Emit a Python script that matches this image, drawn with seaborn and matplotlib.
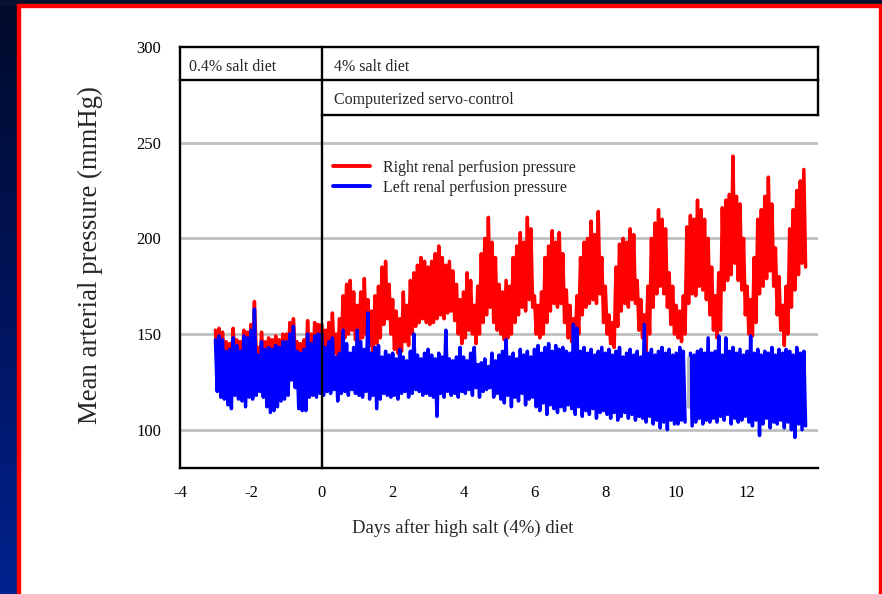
import numpy as np
import pandas as pd
import matplotlib
matplotlib.use("Agg")
import matplotlib.pyplot as plt
import seaborn as sns
from matplotlib.patches import Rectangle
from matplotlib.lines import Line2D
from matplotlib.colors import LinearSegmentedColormap

# ---------------- data ----------------
# samples every 0.1 day from -3.0 to 13.6; each sample has an upper and lower excursion
day_start, day_step = -3.0, 0.1

right_hi = [152, 153, 151, 146, 145, 153, 147, 146, 152, 151,
            155, 167, 143, 151, 146, 148, 147, 149, 147, 150,
            150, 156, 158, 146, 145, 147, 157, 150, 156, 155,
            155, 152, 156, 161, 150, 158, 170, 176, 178, 172,
            165, 172, 179, 168, 162, 170, 175, 185, 188, 176,
            168, 162, 158, 172, 165, 178, 182, 186, 190, 188,
            185, 188, 192, 196, 190, 186, 188, 183, 176, 168,
            172, 182, 178, 165, 175, 192, 200, 211, 198, 190,
            176, 172, 178, 175, 190, 196, 203, 198, 211, 205,
            170, 165, 172, 190, 196, 204, 198, 203, 192, 173,
            165, 158, 170, 190, 198, 200, 209, 202, 214, 190,
            175, 160, 156, 185, 197, 200, 198, 205, 202, 178,
            168, 160, 175, 200, 208, 215, 210, 205, 182, 175,
            165, 162, 170, 206, 212, 210, 220, 215, 210, 200,
            185, 170, 182, 216, 220, 223, 243, 222, 218, 200,
            175, 168, 190, 210, 215, 222, 232, 218, 195, 180,
            165, 175, 205, 215, 225, 230, 236]
right_lo = [135, 138, 136, 132, 133, 136, 134, 132, 138, 136,
            138, 140, 128, 136, 130, 132, 130, 131, 132, 135,
            135, 138, 140, 130, 130, 132, 138, 134, 137, 138,
            138, 136, 137, 140, 136, 140, 148, 150, 152, 147,
            145, 148, 150, 144, 140, 145, 148, 155, 158, 150,
            142, 140, 141, 146, 144, 150, 154, 156, 158, 156,
            155, 156, 158, 160, 158, 161, 162, 157, 150, 145,
            148, 152, 150, 145, 150, 156, 160, 164, 156, 152,
            150, 147, 148, 150, 156, 160, 164, 162, 168, 164,
            150, 148, 150, 156, 162, 166, 164, 166, 156, 148,
            146, 145, 150, 160, 164, 166, 168, 166, 171, 156,
            150, 145, 143, 154, 162, 166, 164, 168, 166, 152,
            148, 140, 150, 164, 171, 175, 171, 164, 155, 150,
            148, 146, 150, 166, 171, 170, 175, 173, 168, 160,
            152, 148, 152, 173, 178, 181, 187, 178, 173, 160,
            150, 149, 156, 171, 175, 179, 183, 175, 160, 152,
            144, 150, 164, 173, 181, 187, 185]
left_hi = [147, 149, 147, 141, 142, 148, 144, 141, 149, 148,
           152, 163, 139, 146, 142, 143, 142, 144, 143, 146,
           146, 150, 154, 141, 140, 142, 150, 145, 149, 150,
           150, 143, 146, 148, 138, 140, 152, 145, 140, 143,
           152, 146, 142, 161, 140, 143, 144, 138, 141, 139,
           140, 137, 142, 138, 136, 141, 150, 139, 137, 140,
           142, 139, 137, 140, 138, 152, 137, 136, 138, 143,
           138, 136, 140, 143, 134, 135, 137, 133, 140, 136,
           139, 141, 147, 138, 140, 137, 142, 139, 141, 138,
           142, 144, 140, 143, 145, 141, 144, 142, 143, 141,
           140, 155, 153, 141, 143, 140, 142, 139, 141, 143,
           140, 142, 139, 141, 143, 138, 140, 142, 139, 141,
           138, 155, 140, 142, 139, 141, 143, 140, 142, 139,
           140, 143, 141, np.nan, 140, 139, 141, 142, 140, 148,
           140, 141, 149, 139, 148, 141, 143, 140, 142, 139,
           141, 149, 140, 142, 139, 141, 140, 143, 139, 142,
           140, 142, 141, 139, 143, 140, 141]
left_lo = [120, 117, 116, 113, 111, 118, 116, 115, 112, 117,
           116, 118, 120, 117, 112, 109, 110, 112, 115, 116,
           118, 126, 122, 111, 110, 110, 117, 118, 117, 119,
           118, 120, 119, 121, 115, 119, 120, 118, 121, 119,
           118, 117, 120, 116, 118, 111, 116, 119, 118, 117,
           118, 116, 119, 120, 117, 119, 121, 120, 118, 119,
           118, 117, 107, 119, 117, 120, 118, 119, 117, 120,
           119, 121, 118, 122, 117, 120, 121, 122, 117, 119,
           116, 114, 118, 112, 117, 115, 119, 113, 116, 117,
           112, 110, 114, 108, 113, 111, 109, 112, 110, 113,
           111, 108, 112, 107, 110, 108, 111, 106, 109, 110,
           108, 106, 109, 105, 107, 109, 106, 108, 105, 107,
           106, 104, 107, 103, 105, 101, 104, 100, 105, 103,
           103, 105, 104, np.nan, 102, 104, 106, 103, 105, 104,
           106, 104, 107, 105, 108, 103, 106, 104, 105, 107,
           104, 102, 105, 97, 103, 106, 101, 104, 103, 105,
           101, 104, 100, 96, 103, 100, 102]
# short gray trace visible in the gap of the left-kidney record
gap_day = [10.34, 10.34]
gap_val = [112, 138]

x_ticks = [-4, -2, 0, 2, 4, 6, 8, 10, 12]
y_ticks = [100, 150, 200, 250, 300]
labels = ["Right renal perfusion pressure", "Left renal perfusion pressure"]
phase_labels = ["0.4% salt diet", "4% salt diet", "Computerized servo-control"]


def zigzag(hi, lo, name):
    n = len(hi)
    days = np.round(day_start + day_step * np.arange(n), 2)
    t = np.empty(2 * n)
    v = np.empty(2 * n)
    t[0::2] = days
    t[1::2] = days + day_step / 2
    v[0::2] = hi
    v[1::2] = lo
    seg = np.cumsum(np.isnan(v))
    df = pd.DataFrame({"day": t, "mmHg": v, "seg": seg, "series": name})
    return df.dropna()


right_df = zigzag(right_hi, right_lo, labels[0])
left_df = zigzag(left_hi, left_lo, labels[1])

# ---------------- figure ----------------
sns.set_style("white")
plt.rcParams["font.family"] = ["Liberation Serif", "DejaVu Serif"]
plt.rcParams["axes.unicode_minus"] = False

W, H = 882, 594
fig = plt.figure(figsize=(W / 100, H / 100), dpi=100, facecolor="white")

# slide frame
band = fig.add_axes([0, 0, 17 / W, 1], zorder=-5)
grad = np.linspace(0, 1, 256).reshape(-1, 1)
cmap = LinearSegmentedColormap.from_list("slide", ["#000b2a", "#00135a", "#00228f"])
band.imshow(grad, aspect="auto", cmap=cmap, extent=[0, 1, 0, 1], origin="upper")
band.axis("off")
fig.patches.append(Rectangle((0, 1 - 4.5 / H), 1, 4.5 / H, transform=fig.transFigure,
                             color="#08122e", zorder=-4))
fig.patches.append(Rectangle((17 / W, 0), 2.5 / W, 1 - 4.5 / H, transform=fig.transFigure,
                             color="#ff0000", zorder=-3))
fig.patches.append(Rectangle((17 / W, 1 - 7 / H), (881.5 - 17) / W, 2.5 / H,
                             transform=fig.transFigure, color="#ff0000", zorder=-3))
fig.patches.append(Rectangle((879 / W, 0), 2.5 / W, 1 - 4.5 / H, transform=fig.transFigure,
                             color="#ff0000", zorder=-3))

ax = fig.add_axes([180 / W, 1 - 468 / H, 638 / W, 421 / H])
ax.set_facecolor("none")

for yv in y_ticks[:-1]:
    ax.axhline(yv, color="#c0c0c0", lw=2.0, zorder=0)

sns.lineplot(data=right_df, x="day", y="mmHg", units="seg", estimator=None, sort=False,
             color="#ff0000", lw=2.5, ax=ax, zorder=2)
sns.lineplot(data=left_df, x="day", y="mmHg", units="seg", estimator=None, sort=False,
             color="#0000ff", lw=2.5, ax=ax, zorder=3)
ax.plot(gap_day, gap_val, color="#b8b8b8", lw=2.0, zorder=3)

ax.set_xlim(-4, 14)
ax.set_ylim(80, 300)
ax.set_xticks(x_ticks)
ax.set_yticks(y_ticks)
ax.tick_params(axis="both", direction="out", length=4.5, width=1.5, color="black",
               labelsize=12, labelcolor="black")
ax.tick_params(axis="y", pad=9)
ax.tick_params(axis="x", pad=8)
for s in ["top", "right"]:
    ax.spines[s].set_visible(False)
for s in ["left", "bottom"]:
    ax.spines[s].set_color("black")
    ax.spines[s].set_linewidth(1.7)

# phase boxes
row1, row2 = 282.8, 264.5
kw = dict(color="black", lw=1.7, clip_on=False, zorder=4, solid_capstyle="projecting")
ax.plot([-4, 14], [300, 300], **kw)
ax.plot([-4, 14], [row1, row1], **kw)
ax.plot([0, 14], [row2, row2], **kw)
ax.plot([14, 14], [row2, 300], **kw)
ax.plot([0, 0], [80, 300], **kw)
ax.text(-3.75, 289.8, phase_labels[0], fontsize=11.5, va="center", ha="left")
ax.text(0.34, 289.8, phase_labels[1], fontsize=11.5, va="center", ha="left")
ax.text(0.34, 272.4, phase_labels[2], fontsize=11.5, va="center", ha="left")

handles = [Line2D([], [], color="#ff0000", lw=2.8), Line2D([], [], color="#0000ff", lw=2.8)]
ax.legend(handles, labels, loc="upper left", bbox_to_anchor=(0.2398, 0.7316), frameon=False,
          fontsize=11.5, handlelength=2.3, handletextpad=0.8, labelspacing=0.25,
          borderaxespad=0, borderpad=0)

ax.set_xlabel("Days after high salt (4%) diet", fontsize=13.5)
ax.xaxis.label.set_va("center")
ax.xaxis.set_label_coords((463 - 180) / 638, (468 - 528) / 421)
ax.set_ylabel("Mean arterial pressure (mmHg)", fontsize=19.3)
ax.yaxis.label.set_va("center")
ax.yaxis.set_label_coords((90 - 180) / 638, (468 - 255) / 421)

fig.savefig("out.png", dpi=100, facecolor="white")
